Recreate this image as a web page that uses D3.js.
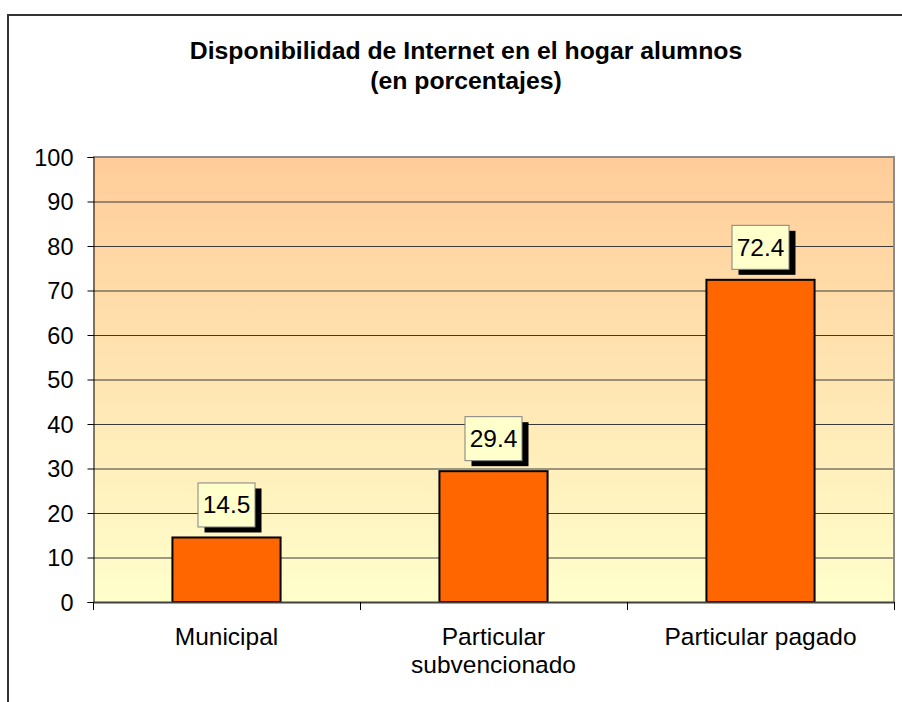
<!DOCTYPE html>
<html>
<head>
<meta charset="utf-8">
<script src="https://cdn.jsdelivr.net/npm/d3@7"></script>
<style>
  body { margin: 0; background: #fff; }
  text { font-family: Arial, "Liberation Sans", sans-serif; fill: #000; }
</style>
</head>
<body>
<script>
var categories = [["Municipal"], ["Particular", "subvencionado"], ["Particular pagado"]];
var values = [14.5, 29.4, 72.4];
var yTicks = [0, 10, 20, 30, 40, 50, 60, 70, 80, 90, 100];
var titleLines = ["Disponibilidad de Internet en el hogar alumnos", "(en porcentajes)"];

var width = 902, height = 702;
var plot = { left: 93, top: 157, right: 894, bottom: 602 };

var svg = d3.select("body").append("svg")
    .attr("width", width)
    .attr("height", height);

// outer frame (only top and left are visible in the picture)
svg.append("path")
    .attr("d", "M8,702 L8,15 L902,15")
    .attr("fill", "none")
    .attr("stroke", "#333")
    .attr("stroke-width", 2);

var defs = svg.append("defs");
var grad = defs.append("linearGradient")
    .attr("id", "bg")
    .attr("x1", 0).attr("y1", 0).attr("x2", 0).attr("y2", 1);
grad.append("stop").attr("offset", "0%").attr("stop-color", "#ffcc99");
grad.append("stop").attr("offset", "100%").attr("stop-color", "#ffffcc");

var x = d3.scaleBand()
    .domain(d3.range(categories.length))
    .range([plot.left, plot.right])
    .paddingInner(0.595)
    .paddingOuter(0.2975);

var y = d3.scaleLinear()
    .domain([0, 100])
    .range([plot.bottom, plot.top]);

svg.append("rect")
    .attr("x", plot.left)
    .attr("y", plot.top)
    .attr("width", plot.right - plot.left)
    .attr("height", plot.bottom - plot.top)
    .attr("fill", "url(#bg)");

// gridlines
svg.selectAll(".grid")
    .data(yTicks.slice(1, -1))
    .enter()
    .append("line")
    .attr("x1", plot.left)
    .attr("x2", plot.right)
    .attr("y1", function(d) { return y(d) + 0.5; })
    .attr("y2", function(d) { return y(d) + 0.5; })
    .attr("stroke", "#3a3a3a")
    .attr("stroke-width", 1);

// plot border top/right
svg.append("path")
    .attr("d", "M" + plot.left + "," + plot.top + " L" + plot.right + "," + plot.top + " L" + plot.right + "," + plot.bottom)
    .attr("fill", "none")
    .attr("stroke", "#8c8c8c")
    .attr("stroke-width", 2);

// bars
svg.selectAll(".bar")
    .data(values)
    .enter()
    .append("rect")
    .attr("x", function(d, i) { return x(i); })
    .attr("y", function(d) { return y(d); })
    .attr("width", x.bandwidth())
    .attr("height", function(d) { return y(0) - y(d); })
    .attr("fill", "#ff6600")
    .attr("stroke", "#000")
    .attr("stroke-width", 2);

// y axis
var yAxis = d3.axisLeft(y).tickValues(yTicks).tickSize(6).tickPadding(14);
var gy = svg.append("g")
    .attr("transform", "translate(" + (plot.left + 0.5) + ",0)")
    .call(yAxis);
gy.select(".domain").attr("stroke", "#000");
gy.selectAll(".tick line").attr("stroke", "#000");
gy.selectAll(".tick text").style("font-size", "23.5px").attr("dy", "0.35em");

// x axis line and boundary ticks
svg.append("line")
    .attr("x1", plot.left).attr("x2", plot.right)
    .attr("y1", plot.bottom + 0.5).attr("y2", plot.bottom + 0.5)
    .attr("stroke", "#404040")
    .attr("stroke-width", 2);

var step = (plot.right - plot.left) / categories.length;
svg.selectAll(".xtick")
    .data(d3.range(categories.length + 1))
    .enter()
    .append("line")
    .attr("x1", function(d) { return plot.left + d * step + 0.5; })
    .attr("x2", function(d) { return plot.left + d * step + 0.5; })
    .attr("y1", plot.bottom)
    .attr("y2", plot.bottom + 8)
    .attr("stroke", "#000");

// category labels
var cat = svg.selectAll(".cat")
    .data(categories)
    .enter()
    .append("text")
    .attr("text-anchor", "middle")
    .style("font-size", "24.5px");
cat.selectAll("tspan")
    .data(function(d, i) { return d.map(function(s) { return { s: s, i: i }; }); })
    .enter()
    .append("tspan")
    .attr("x", function(d) { return x(d.i) + x.bandwidth() / 2; })
    .attr("y", function(d, j) { return 645 + j * 28; })
    .text(function(d) { return d.s; });

// data labels with shadow
var lab = svg.selectAll(".lab")
    .data(values)
    .enter()
    .append("g")
    .attr("transform", function(d, i) {
        return "translate(" + (x(i) + x.bandwidth() / 2) + "," + (y(d) - 10) + ")";
    });
lab.append("rect")
    .attr("x", -28 + 6).attr("y", -44 + 5)
    .attr("width", 57).attr("height", 44)
    .attr("fill", "#000");
lab.append("rect")
    .attr("x", -28.5).attr("y", -44.5)
    .attr("width", 57).attr("height", 44)
    .attr("fill", "#ffffcc")
    .attr("stroke", "#808080")
    .attr("stroke-width", 1);
lab.append("text")
    .attr("x", 0)
    .attr("y", -14)
    .attr("text-anchor", "middle")
    .style("font-size", "24.5px")
    .text(function(d) { return d.toFixed(1); });

// title
svg.selectAll(".title")
    .data(titleLines)
    .enter()
    .append("text")
    .attr("x", 466)
    .attr("y", function(d, i) { return 59 + i * 30; })
    .attr("text-anchor", "middle")
    .style("font-size", "24.8px")
    .style("font-weight", "bold")
    .text(function(d) { return d; });
</script>
</body>
</html>
